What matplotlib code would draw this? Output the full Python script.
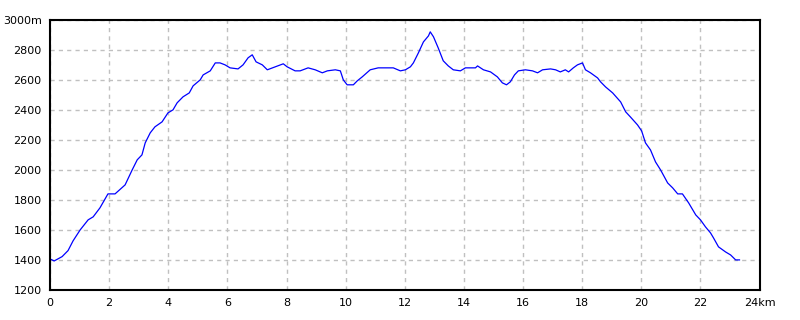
import matplotlib
matplotlib.use('Agg')
import matplotlib.pyplot as plt
import numpy as np

# distance (km) and elevation (m)
dist_km = [0.0, 0.14, 0.41, 0.61, 0.78, 1.02, 1.29, 1.46, 1.69, 1.96, 2.20, 2.54, 2.78, 2.95,
           3.11, 3.22, 3.39, 3.55, 3.79, 3.99, 4.16, 4.30, 4.50, 4.71, 4.84, 5.08, 5.18, 5.42,
           5.59, 5.75, 5.92, 6.09, 6.36, 6.53, 6.70, 6.84, 6.97, 7.18, 7.35, 7.62, 7.89, 8.02,
           8.29, 8.46, 8.73, 8.97, 9.21, 9.38, 9.65, 9.82, 9.92, 10.05, 10.26, 10.39, 10.56,
           10.83, 11.10, 11.34, 11.61, 11.85, 12.02, 12.19, 12.29, 12.46, 12.63, 12.80, 12.86,
           12.97, 13.13, 13.30, 13.47, 13.64, 13.88, 14.05, 14.39, 14.46, 14.66, 14.90, 15.13,
           15.30, 15.44, 15.57, 15.71, 15.84, 16.08, 16.32, 16.49, 16.66, 16.93, 17.10, 17.26,
           17.43, 17.54, 17.70, 17.84, 18.01, 18.11, 18.28, 18.52, 18.62, 18.79, 19.03, 19.30,
           19.47, 19.63, 19.87, 20.01, 20.14, 20.31, 20.48, 20.65, 20.89, 21.06, 21.23, 21.39,
           21.60, 21.84, 22.00, 22.17, 22.34, 22.44, 22.61, 22.85, 23.02, 23.19, 23.32]
elev_m = [1407, 1393, 1422, 1462, 1527, 1600, 1667, 1687, 1747, 1840, 1840, 1900, 2000, 2067,
          2100, 2180, 2247, 2287, 2320, 2380, 2400, 2447, 2487, 2513, 2560, 2600, 2633, 2660,
          2713, 2713, 2700, 2680, 2673, 2700, 2747, 2767, 2720, 2700, 2667, 2687, 2707, 2687,
          2660, 2660, 2680, 2667, 2647, 2660, 2667, 2660, 2600, 2567, 2567, 2593, 2620,
          2667, 2680, 2680, 2680, 2660, 2667, 2687, 2713, 2780, 2853, 2893, 2920,
          2887, 2813, 2727, 2693, 2667, 2660, 2680, 2680, 2693, 2667, 2653, 2620,
          2580, 2567, 2587, 2633, 2660, 2667, 2660, 2647, 2667, 2673, 2667, 2653,
          2667, 2653, 2680, 2700, 2713, 2667, 2647, 2613, 2587, 2553, 2513, 2453,
          2387, 2353, 2300, 2260, 2180, 2133, 2053, 2000, 1913, 1880, 1840, 1840,
          1780, 1700, 1667, 1620, 1580, 1547, 1487, 1453, 1433, 1400, 1400]

x_ticks = list(range(0, 25, 2))
x_labels = [str(t) for t in x_ticks[:-1]] + ['24km']
y_ticks = list(range(1200, 3001, 200))
y_labels = [str(t) for t in y_ticks[:-1]] + ['3000m']

fig = plt.figure(figsize=(8, 3.2), dpi=100)
ax = fig.add_axes([0.0625, 0.094, 0.887, 0.844])

ax.plot(dist_km, elev_m, color='#0000ff', linewidth=0.9)

ax.set_xlim(0, 24)
ax.set_ylim(1200, 3000)
ax.set_xticks(x_ticks)
ax.set_xticklabels(x_labels)
ax.set_yticks(y_ticks)
ax.set_yticklabels(y_labels)
ax.tick_params(length=0, labelsize=8, pad=6, colors='black')
ax.grid(True, color='#c0c0c0', linestyle=(0, (3, 3)), linewidth=1)
for s in ax.spines.values():
    s.set_color('black')
    s.set_linewidth(1.5)

fig.savefig('out.png', dpi=100)
